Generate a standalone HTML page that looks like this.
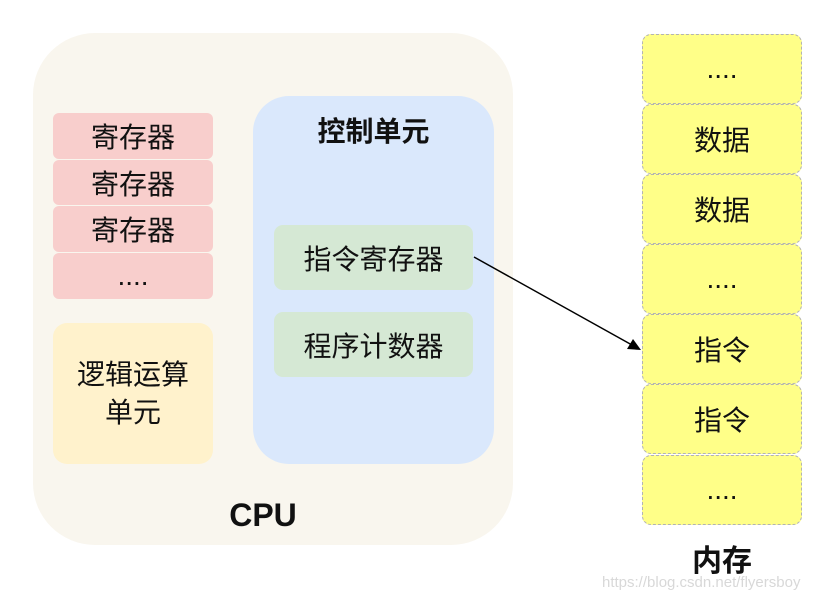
<!DOCTYPE html>
<html><head><meta charset="utf-8"><style>
body{margin:0;width:820px;height:601px;background:#fff;position:relative;overflow:hidden;font-family:"Liberation Sans","Noto Sans CJK SC",sans-serif;}
.b{position:absolute;display:flex;align-items:center;justify-content:center;text-align:center;color:#111;box-sizing:border-box;}
.r{background:#f8cecc;border-radius:6px;font-size:28px;left:53px;width:160px;}
.m{background:#ffff88;border:1.5px dashed #b3b3b3;border-radius:9px;left:642px;width:160px;height:70px;font-size:28px;}
.g{background:#d5e8d4;border-radius:9px;left:274px;width:199px;height:65px;font-size:28px;}
</style></head><body>
<div class="b" style="left:33px;top:33px;width:480px;height:512px;background:#f9f6ee;border-radius:62px;"></div>
<div class="b r" style="top:113px;height:46px;">寄存器</div>
<div class="b r" style="top:160px;height:45px;">寄存器</div>
<div class="b r" style="top:206px;height:46px;">寄存器</div>
<div class="b r" style="top:253px;height:46px;">....</div>
<div class="b" style="left:53px;top:323px;width:160px;height:141px;background:#fff2cc;border-radius:14px;font-size:28px;line-height:38px;">逻辑运算<br>单元</div>
<div class="b" style="left:253px;top:96px;width:241px;height:368px;background:#dae8fc;border-radius:36px;"></div>
<div class="b" style="left:253px;top:110px;width:241px;height:40px;font-size:28px;font-weight:bold;">控制单元</div>
<div class="b g" style="top:225px;">指令寄存器</div>
<div class="b g" style="top:312px;">程序计数器</div>
<div class="b" style="left:163px;top:495px;width:200px;height:40px;font-size:32px;font-weight:bold;">CPU</div>
<div class="b m" style="top:34px;">....</div>
<div class="b m" style="top:104px;">数据</div>
<div class="b m" style="top:174px;">数据</div>
<div class="b m" style="top:244px;">....</div>
<div class="b m" style="top:314px;">指令</div>
<div class="b m" style="top:384px;">指令</div>
<div class="b m" style="top:455px;">....</div>
<div class="b" style="left:642px;top:538px;width:160px;height:40px;font-size:30px;font-weight:bold;">内存</div>
<svg style="position:absolute;left:0;top:0" width="820" height="601">
<line x1="474" y1="257" x2="632" y2="345" stroke="#000" stroke-width="1.5"/>
<polygon points="641,350 627,349 633,339" fill="#000"/>
</svg>
<div style="position:absolute;left:602px;top:574px;font-size:15px;color:#d8d8d8;">https://blog.csdn.net/flyersboy</div>
</body></html>
